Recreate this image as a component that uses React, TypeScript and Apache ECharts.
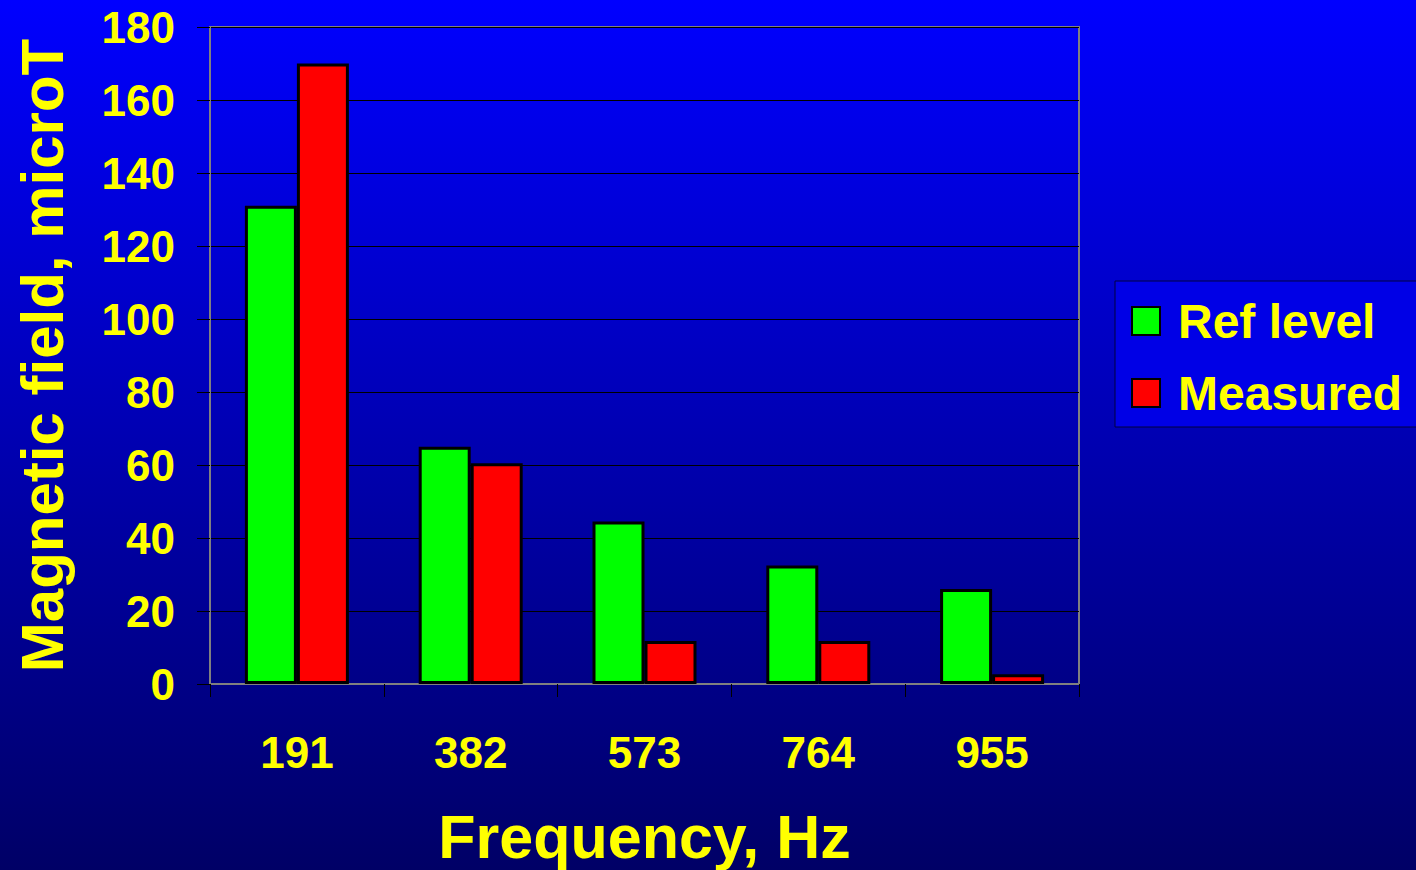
import React, { useEffect, useRef } from "react";
import * as echarts from "echarts";

const categories = ["191", "382", "573", "764", "955"];
const refLevel = [131, 65, 44.5, 32.5, 26];
const measured = [170, 60.5, 11.8, 11.8, 2.7];
const yTicks = { min: 0, max: 180, interval: 20 };

const FONT = "'Liberation Sans', Arial, sans-serif";
const YELLOW = "#FFFF00";

export default function App() {
  const ref = useRef<HTMLDivElement>(null);
  useEffect(() => {
    if (!ref.current) return;
    const chart = echarts.init(ref.current, null, { renderer: "svg" });
    chart.setOption({
      animation: false,
      backgroundColor: {
        type: "linear",
        x: 0,
        y: 0,
        x2: 0,
        y2: 1,
        colorStops: [
          { offset: 0, color: "#0000FF" },
          { offset: 1, color: "#000066" },
        ],
      },
      grid: {
        left: 210,
        right: 337,
        top: 27,
        bottom: 186,
        containLabel: false,
        outerBoundsMode: "none",
        show: true,
        borderColor: "#808080",
        borderWidth: 2,
        backgroundColor: "transparent",
      },
      legend: {
        orient: "vertical",
        left: 1115,
        top: 281,
        padding: [16, 40, 10, 16],
        itemWidth: 28,
        itemHeight: 28,
        itemGap: 24,
        backgroundColor: "#0000E6",
        borderColor: "#000040",
        borderWidth: 1,
        icon: "rect",
        textStyle: {
          color: YELLOW,
          fontFamily: FONT,
          fontWeight: "bold",
          fontSize: 48,
          lineHeight: 48,
          padding: [0, 0, 0, 13],
        },
        data: ["Ref level", "Measured"],
      },
      xAxis: {
        type: "category",
        data: categories,
        name: "Frequency, Hz",
        nameLocation: "middle",
        nameGap: 122,
        nameTextStyle: {
          color: YELLOW,
          fontFamily: FONT,
          fontWeight: "bold",
          fontSize: 61,
        },
        axisLine: { show: true, lineStyle: { color: "#808080", width: 2 } },
        axisTick: { show: true, length: 13, lineStyle: { color: "#000000", width: 1 } },
        axisLabel: {
          color: YELLOW,
          fontFamily: FONT,
          fontWeight: "bold",
          fontSize: 44,
          margin: 46,
        },
        splitLine: { show: false },
      },
      yAxis: {
        type: "value",
        min: yTicks.min,
        max: yTicks.max,
        interval: yTicks.interval,
        name: "Magnetic field, microT",
        nameLocation: "middle",
        nameGap: 138,
        nameTextStyle: {
          color: YELLOW,
          fontFamily: FONT,
          fontWeight: "bold",
          fontSize: 60,
        },
        axisLine: { show: true, lineStyle: { color: "#808080", width: 2 } },
        axisTick: { show: true, length: 13, lineStyle: { color: "#000000", width: 1 } },
        axisLabel: {
          color: YELLOW,
          fontFamily: FONT,
          fontWeight: "bold",
          fontSize: 44,
          margin: 35,
        },
        splitLine: { show: true, lineStyle: { color: "#000000", width: 1 } },
      },
      series: [
        {
          name: "Ref level",
          type: "bar",
          data: refLevel,
          barWidth: 52,
          barGap: "0%",
          itemStyle: { color: "#00FF00", borderColor: "#000000", borderWidth: 3 },
        },
        {
          name: "Measured",
          type: "bar",
          data: measured,
          barWidth: 52,
          barGap: "0%",
          itemStyle: { color: "#FF0000", borderColor: "#000000", borderWidth: 3 },
        },
      ],
    });
    return () => chart.dispose();
  }, []);
  return (
    <div
      ref={ref}
      style={{ position: "fixed", left: 0, top: 0, width: 1416, height: 870 }}
    />
  );
}
